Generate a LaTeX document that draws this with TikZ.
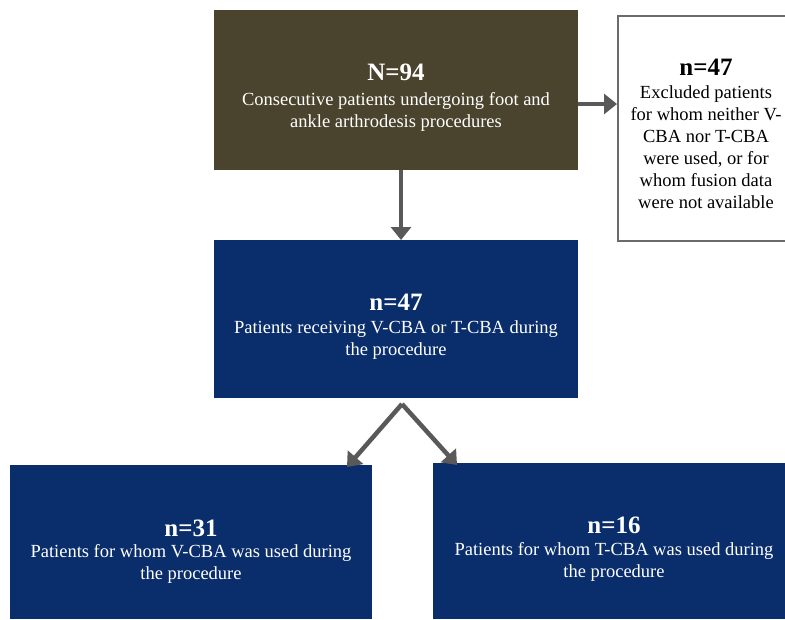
\documentclass[tikz,border=0pt]{standalone}
\usepackage{fontspec}
\setmainfont{Liberation Serif}
\usetikzlibrary{arrows.meta}
\definecolor{olivebox}{HTML}{4A432D}
\definecolor{navybox}{HTML}{0A2D6B}
\definecolor{arrowgray}{HTML}{595959}
\definecolor{bordergray}{HTML}{6B6B6B}
\tikzset{
  x=1pt,y=-1pt,
  boxbase/.style={rectangle,inner sep=0pt,anchor=north west},
  darkbox/.style={boxbase,fill=olivebox},
  bluebox/.style={boxbase,fill=navybox},
  whitebox/.style={boxbase,draw=bordergray,line width=2pt,fill=white},
  headtxt/.style={font=\fontsize{25}{28}\selectfont\bfseries,text=white},
  bodytxt/.style={font=\fontsize{18.5}{22}\selectfont,text=white,align=center},
  conn/.style={draw=arrowgray,line width=4.5pt,-{Triangle[length=13pt,width=20pt]}},
}
\begin{document}
\begin{tikzpicture}
\useasboundingbox (0,0) rectangle (785,619);
% boxes
\node[darkbox,minimum width=364pt,minimum height=160pt] (top) at (214,10) {};
\node[whitebox,minimum width=172pt,minimum height=225pt] (excl) at (617,15) {};
\node[bluebox,minimum width=364pt,minimum height=158pt] (mid) at (214,240) {};
\node[bluebox,minimum width=362pt,minimum height=154pt] (bl) at (10,465) {};
\node[bluebox,minimum width=352pt,minimum height=156pt] (br) at (433,463) {};
% texts
\node[headtxt] (t1) at (396,72) {N=94};
\node[bodytxt] (t2) at (396,112) {Consecutive patients undergoing foot and\\ankle arthrodesis procedures};
\node[headtxt,text=black] (e1) at (706,67) {n=47};
\node[bodytxt,text=black] (e2) at (706,147) {Excluded patients\\for whom neither V-\\CBA nor T-CBA\\were used, or for\\whom fusion data\\were not available};
\node[headtxt] (m1) at (396,302) {n=47};
\node[bodytxt] (m2) at (396,340) {Patients receiving V-CBA or T-CBA during\\the procedure};
\node[headtxt] (b1) at (191,528) {n=31};
\node[bodytxt] (b2) at (191,564) {Patients for whom V-CBA was used during\\the procedure};
\node[headtxt] (r1) at (614,525) {n=16};
\node[bodytxt] (r2) at (614,562) {Patients for whom T-CBA was used during\\the procedure};
% connectors
\coordinate (fork) at (402,404);
\coordinate (lt) at (347,467);
\coordinate (rt) at (457,465);
\draw[conn] (top.south -| 401,0) -- (mid.north -| 401,0);
\draw[conn] (top.east |- 0,104) -- (excl.west |- 0,104);
\draw[conn] (fork) -- (lt);
\draw[conn] (fork) -- (rt);
\end{tikzpicture}
\end{document}
